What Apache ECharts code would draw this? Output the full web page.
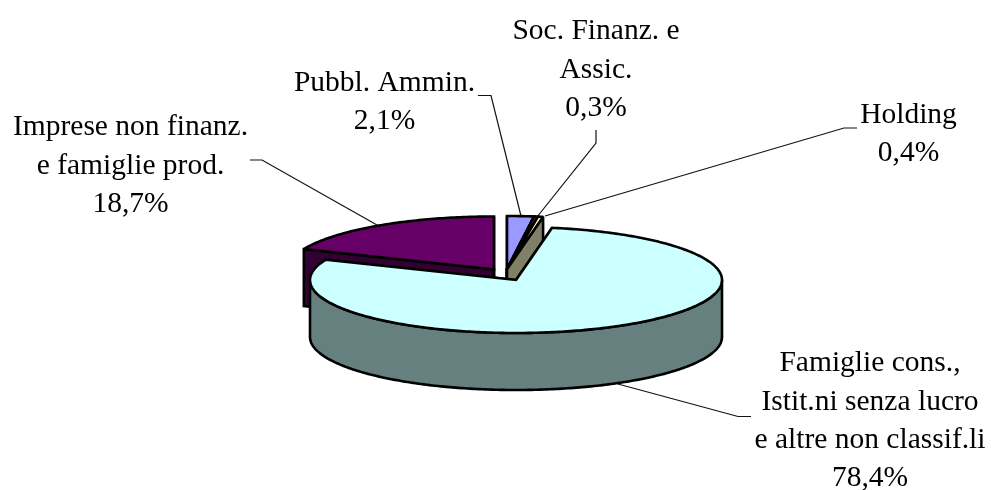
<!DOCTYPE html>
<html>
<head>
<meta charset="utf-8">
<script src="https://cdn.jsdelivr.net/npm/echarts@6/dist/echarts.min.js"></script>
<style>html,body{margin:0;padding:0;background:#fff}#c{width:991px;height:490px}</style>
</head>
<body>
<div id="c"></div>
<script>
var categories = ['Pubbl. Ammin.', 'Soc. Finanz. e\nAssic.', 'Holding', 'Famiglie cons.,\nIstit.ni senza lucro\ne altre non classif.li', 'Imprese non finanz.\ne famiglie prod.'];
var values = [2.1, 0.3, 0.4, 78.4, 18.7];
var percentLabels = ['2,1%', '0,3%', '0,4%', '78,4%', '18,7%'];

var topColors = ['#9999FF', '#993366', '#FFFFCC', '#CCFFFF', '#660066'];
var sideColors = ['#666699', '#4d1a33', '#808066', '#668080', '#330033'];
var geo = {cx: 516, cy: 280, rx: 206, ry: 53, depth: 57};
var explode = [[-9, -11], [-9, -11], [-9, -11], [0, 0], [-22, -10.5]];
var layer = [1, 2, 3, 5, 4];
var labelPos = [[384.5, 102], [596, 70], [908.5, 134], [870, 421], [130.5, 166]];
var leaders = [
  [[478, 95.5], [491, 95.5], [521, 216]],
  [[596, 130], [596, 143], [537, 217]],
  [[857, 128], [844, 128], [545, 216]],
  [[751, 416.5], [738, 416.5], [618, 384]],
  [[250, 160], [262, 160], [377, 225]]
];

var total = values.reduce(function (a, b) { return a + b; }, 0);
function rim(a, ox, oy, dy) {
  return [geo.cx + ox + geo.rx * Math.sin(a), geo.cy + oy + dy - geo.ry * Math.cos(a)];
}
function arc(a0, a1, ox, oy, dy) {
  var n = Math.max(2, Math.ceil((a1 - a0) / 0.015)), pts = [];
  for (var i = 0; i <= n; i++) pts.push(rim(a0 + (a1 - a0) * i / n, ox, oy, dy));
  return pts;
}
function face(pts, fill, z) {
  return {type: 'polygon', z2: z, silent: true, shape: {points: pts},
    style: {fill: fill, stroke: '#000', lineWidth: 2.6, lineJoin: 'miter', miterLimit: 2}};
}

function renderItem(params, api) {
  var i = params.dataIndex, v = api.value(0), before = 0;
  for (var k = 0; k < i; k++) before += values[k];
  var a0 = before / total * 2 * Math.PI, a1 = (before + v) / total * 2 * Math.PI;
  var ox = explode[i][0], oy = explode[i][1], d = geo.depth, base = layer[i] * 10;
  var apex = [geo.cx + ox, geo.cy + oy], apexB = [apex[0], apex[1] + d];
  var kids = [];
  var p0 = rim(a0, ox, oy, 0), p1 = rim(a1, ox, oy, 0);
  kids.push(face([apex, p0, [p0[0], p0[1] + d], apexB], sideColors[i], base));
  kids.push(face([apex, p1, [p1[0], p1[1] + d], apexB], sideColors[i], base + 1));
  var w0 = Math.max(a0, Math.PI / 2), w1 = Math.min(a1, Math.PI * 1.5);
  if (w1 > w0) {
    kids.push(face(arc(w0, w1, ox, oy, 0).concat(arc(w0, w1, ox, oy, d).reverse()), sideColors[i], base + 2));
  }
  kids.push(face([apex].concat(arc(a0, a1, ox, oy, 0)), topColors[i], base + 3));
  kids.push({type: 'polyline', z2: 90, silent: true, shape: {points: leaders[i]},
    style: {fill: null, stroke: '#111', lineWidth: 1.2}});
  kids.push({type: 'text', z2: 100, silent: true, style: {
    text: categories[i] + '\n' + percentLabels[i], x: labelPos[i][0], y: labelPos[i][1],
    align: 'center', verticalAlign: 'middle', lineHeight: 38.4,
    font: '29.5px "Liberation Serif", serif', fill: '#000'}});
  return {type: 'group', children: kids};
}

var chart = echarts.init(document.getElementById('c'), null, {renderer: 'canvas'});
chart.setOption({
  animation: false,
  backgroundColor: '#fff',
  series: [{
    type: 'custom',
    coordinateSystem: 'none',
    renderItem: renderItem,
    clip: false,
    data: values.map(function (v, i) { return {name: categories[i], value: [v]}; })
  }]
});
</script>
</body>
</html>
